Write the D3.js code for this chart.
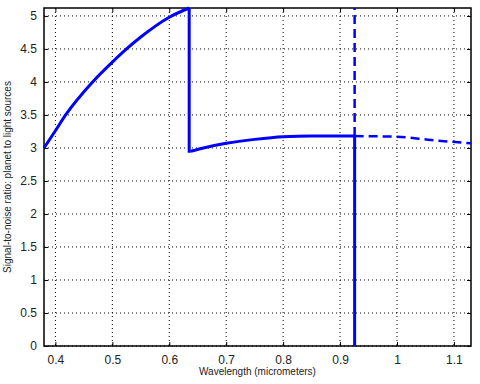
<!DOCTYPE html>
<html>
<head>
<meta charset="utf-8">
<script src="https://cdn.jsdelivr.net/npm/d3@7.9.0/dist/d3.min.js"></script>
<style>
  body { margin: 0; background: #fff; }
  text { font-family: "Liberation Sans", Arial, sans-serif; }
</style>
</head>
<body>
<svg id="chart" width="480" height="384"></svg>
<script>
// visible band, solid
const waveVis = [0.38, 0.40, 0.418, 0.4654, 0.50, 0.525, 0.55, 0.60, 0.635];
const snrVis = [3.00, 3.26, 3.50, 4.00, 4.30, 4.50, 4.68, 4.98, 5.12];

// red band, solid up to the cutoff
const waveRed = [0.638, 0.66, 0.70, 0.75, 0.80, 0.85, 0.9256];
const snrRed = [2.95, 3.00, 3.07, 3.13, 3.17, 3.18, 3.18];

// beyond the cutoff, dashed
const waveBeyond = [0.9256, 1.00, 1.06, 1.13];
const snrBeyond = [3.18, 3.17, 3.12, 3.07];

const cutoff = 0.9256;

const xTicks = [0.4, 0.5, 0.6, 0.7, 0.8, 0.9, 1, 1.1];
const yTicks = [0, 0.5, 1, 1.5, 2, 2.5, 3, 3.5, 4, 4.5, 5];

const margin = { top: 8, right: 9, bottom: 38, left: 44 };
const width = 480 - margin.left - margin.right;
const height = 384 - margin.top - margin.bottom;

const svg = d3.select('#chart');
const g = svg.append('g').attr('transform', `translate(${margin.left},${margin.top})`);

const x = d3.scaleLinear().domain([0.38, 1.13]).range([0, width]);
const y = d3.scaleLinear().domain([0, 5.12]).range([height, 0]);

// grid
g.append('g').selectAll('line').data(xTicks).join('line')
  .attr('x1', d => x(d)).attr('x2', d => x(d))
  .attr('y1', 0).attr('y2', height)
  .attr('stroke', '#000').attr('stroke-width', 1)
  .attr('stroke-dasharray', '1,3');
g.append('g').selectAll('line').data(yTicks).join('line')
  .attr('x1', 0).attr('x2', width)
  .attr('y1', d => y(d)).attr('y2', d => y(d))
  .attr('stroke', '#000').attr('stroke-width', 1)
  .attr('stroke-dasharray', '1,3');

// axes, ticks inward on all sides
const fmt = d => String(d);
const xAxis = g.append('g').attr('transform', `translate(0,${height})`)
  .call(d3.axisBottom(x).tickValues(xTicks).tickFormat(fmt).tickSizeInner(-4).tickSizeOuter(0).tickPadding(9));
const xTop = g.append('g')
  .call(d3.axisTop(x).tickValues(xTicks).tickFormat('').tickSizeInner(-4).tickSizeOuter(0));
const yAxis = g.append('g')
  .call(d3.axisLeft(y).tickValues(yTicks).tickFormat(fmt).tickSizeInner(-4).tickSizeOuter(0).tickPadding(7));
const yRight = g.append('g').attr('transform', `translate(${width},0)`)
  .call(d3.axisRight(y).tickValues(yTicks).tickFormat('').tickSizeInner(-4).tickSizeOuter(0));

[xAxis, xTop, yAxis, yRight].forEach(a => {
  a.select('.domain').remove();
  a.selectAll('line').attr('stroke', '#000');
  a.selectAll('text').attr('font-size', 12).attr('fill', '#222')
    .style('font-family', '"Liberation Sans", Arial, sans-serif');
});

g.append('rect').attr('width', width).attr('height', height)
  .attr('fill', 'none').attr('stroke', '#000').attr('stroke-width', 1.5);

// curves
const smooth = d3.line().x(d => x(d[0])).y(d => y(d[1])).curve(d3.curveMonotoneX);
const straight = d3.line().x(d => x(d[0])).y(d => y(d[1]));
const blue = '#0000ff';

g.append('path').datum(d3.zip(waveVis, snrVis))
  .attr('d', smooth).attr('fill', 'none').attr('stroke', blue).attr('stroke-width', 3);
// drop between the bands
g.append('path')
  .datum([[waveVis[waveVis.length - 1], snrVis[snrVis.length - 1]], [waveVis[waveVis.length - 1], snrRed[0]], [waveRed[0], snrRed[0]]])
  .attr('d', straight).attr('fill', 'none').attr('stroke', blue).attr('stroke-width', 3);
g.append('path').datum(d3.zip(waveRed, snrRed))
  .attr('d', smooth).attr('fill', 'none').attr('stroke', blue).attr('stroke-width', 3);
g.append('path').datum(d3.zip(waveBeyond, snrBeyond))
  .attr('d', smooth).attr('fill', 'none').attr('stroke', blue).attr('stroke-width', 2.5)
  .attr('stroke-dasharray', '9,5');

// cutoff line: solid below the curve, dashed above
const cutSnr = snrRed[snrRed.length - 1];
g.append('line')
  .attr('x1', x(cutoff)).attr('x2', x(cutoff))
  .attr('y1', y(0)).attr('y2', y(cutSnr))
  .attr('stroke', blue).attr('stroke-width', 3);
g.append('line')
  .attr('x1', x(cutoff)).attr('x2', x(cutoff))
  .attr('y1', y(cutSnr)).attr('y2', 0)
  .attr('stroke', blue).attr('stroke-width', 2.5)
  .attr('stroke-dasharray', '9,5');

// labels
svg.append('text')
  .attr('x', margin.left + width / 2).attr('y', 375)
  .attr('text-anchor', 'middle').attr('font-size', 10).attr('fill', '#222')
  .text('Wavelength (micrometers)');
svg.append('text')
  .attr('transform', `translate(11,${margin.top + height / 2}) rotate(-90)`)
  .attr('text-anchor', 'middle').attr('font-size', 10).attr('fill', '#222')
  .text('Signal-to-noise ratio: planet to light sources');
</script>
</body>
</html>
